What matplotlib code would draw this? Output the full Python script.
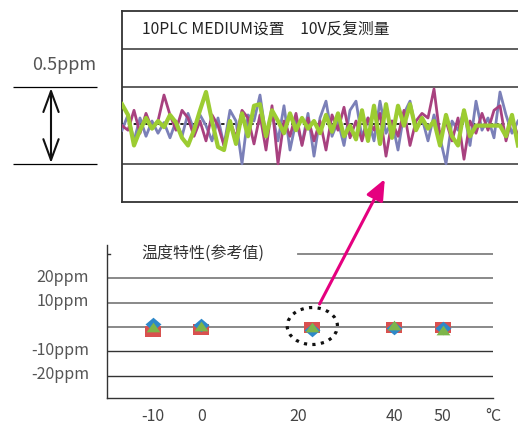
import matplotlib
matplotlib.use('Agg')
import matplotlib.pyplot as plt
import matplotlib.transforms as mtransforms
import numpy as np
from matplotlib.patches import Ellipse, FancyArrowPatch, ConnectionPatch

plt.rcParams['font.family'] = ['Noto Sans CJK SC', 'DejaVu Sans']

# repeat measurement noise (ppm, around the mean)
noise_blue = [-0.03, 0.07, -0.10, 0.05, -0.07, 0.03, -0.05, 0.02, -0.08, 0.03, -0.07, 0.08,
              -0.03, 0.07, 0.00, -0.10, 0.05, -0.13, 0.10, 0.03, -0.25, 0.07, 0.03, 0.20,
              -0.07, 0.08, -0.10, 0.13, -0.16, 0.03, -0.12, 0.08, -0.20, 0.05, 0.16, -0.07,
              0.03, -0.13, 0.10, 0.16, -0.08, 0.05, -0.10, 0.16, -0.05, 0.03, -0.16, 0.08,
              0.16, -0.03, 0.05, -0.10, 0.07, -0.08, -0.25, 0.03, -0.03, 0.10, -0.13, 0.16,
              -0.03, 0.05, -0.08, 0.22, 0.07, -0.05, 0.03]
noise_magenta = [0.00, -0.03, 0.10, -0.05, 0.08, -0.02, 0.03, 0.20, 0.07, -0.03, 0.10, 0.05,
                 -0.07, 0.03, -0.10, 0.07, 0.00, -0.13, 0.03, -0.08, 0.10, 0.05, -0.12, 0.07,
                 -0.16, 0.13, -0.25, 0.03, -0.07, 0.08, -0.13, 0.05, -0.10, 0.03, -0.16, 0.07,
                 -0.03, 0.12, -0.08, 0.03, -0.10, 0.05, -0.03, 0.08, -0.20, 0.03, -0.07, 0.10,
                 -0.13, 0.03, 0.08, 0.05, 0.24, -0.07, 0.03, -0.10, 0.05, -0.22, 0.03, -0.05,
                 0.08, -0.03, 0.10, 0.13, -0.10, 0.05, -0.07]
noise_green = [0.14, 0.07, -0.13, -0.03, 0.05, -0.02, 0.03, -0.01, 0.07, 0.02, -0.08, -0.13,
               -0.03, 0.10, 0.22, 0.03, -0.14, -0.16, 0.03, -0.12, 0.08, -0.07, 0.13, 0.14,
               -0.07, 0.10, 0.03, -0.05, 0.08, -0.03, 0.05, -0.02, 0.03, -0.05, 0.07, -0.04,
               0.08, -0.07, 0.00, -0.09, 0.10, -0.10, 0.13, -0.12, 0.14, -0.08, 0.13, 0.00,
               0.14, -0.03, 0.05, -0.02, 0.03, -0.13, 0.07, -0.07, -0.13, 0.10, -0.07, 0.00,
               0.00, 0.00, 0.00, 0.00, -0.07, 0.07, -0.13]

# temperature characteristic (ppm)
temps = [-10, 0, 23, 40, 50]
temp_red = [-1.6, -0.9, 0.2, -0.2, -0.2]
temp_blue = [1.3, 0.7, -1.2, -0.4, -0.3]
temp_green = [0.0, 0.4, 0.0, 0.8, -1.1]
xtick_vals = [-10, 0, 20, 40, 50]
ytick_vals = [20, 10, -10, -20]
ytick_labels = ['20ppm', '10ppm', '-10ppm', '-20ppm']

W, H = 518, 421


def box(l, t, r, b):
    return [l / W, 1 - b / H, (r - l) / W, (b - t) / H]


fig = plt.figure(figsize=(W / 100, H / 100), dpi=100)

# ---- top panel
ax_top = fig.add_axes(box(122, 11, 560, 202))
xs = np.arange(len(noise_green))
ax_top.axhline(0.01, color='black', lw=1.2, ls=(0, (2, 1.5)), zorder=2)
ax_top.plot(xs, noise_blue, color='#7b80b8', lw=2.0, zorder=3)
ax_top.plot(xs, noise_magenta, color='#a8417f', lw=2.0, zorder=4)
ax_top.plot(xs, noise_green, color='#9ccc32', lw=3.0, zorder=5)
for yy in [0.5, 0.25, -0.25]:
    ax_top.axhline(yy, color='#333333', lw=1.1, zorder=1)
ax_top.set_xlim(0, (560 - 122) / 6)
ax_top.set_ylim(-0.5, 0.75)
ax_top.set_xticks([])
ax_top.set_yticks([])
for s in ['left', 'top', 'bottom']:
    ax_top.spines[s].set_color('#333333')
    ax_top.spines[s].set_linewidth(1.3)
ax_top.spines['right'].set_visible(False)
ax_top.text(3.3, 0.626, '10PLC MEDIUM设置　10V反复测量', fontsize=11.3,
            color='#222222', va='center', ha='left')

# ---- left scale mark
ax_l = fig.add_axes(box(0, 11, 122, 202))
ax_l.set_axis_off()
ax_l.set_xlim(0, 122)
ax_l.set_ylim(-0.5, 0.75)
ax_l.hlines([0.25, -0.25], 13, 97, color='black', lw=0.9)
arr = FancyArrowPatch((51, -0.245), (51, 0.245), arrowstyle='<->,head_length=1.5,head_width=0.55',
                      mutation_scale=10, color='#111111', lw=1.5, shrinkA=0, shrinkB=0)
ax_l.add_patch(arr)
ax_l.text(96, 0.397, '0.5ppm', fontsize=13, color='#555555', ha='right', va='center')

# ---- bottom panel
ax_b = fig.add_axes(box(107, 245, 493, 398))
ax_b.set_xlim(-19.5, 60.4)
ax_b.set_ylim(-29, 33.5)
ax_b.axhline(30, xmin=(298 - 107) / 386, color='#808080', lw=1.3, zorder=1)
ax_b.axhline(30, xmin=0, xmax=3 / 386, color='#333333', lw=1.0, zorder=1)
for yy in [20, 10, 0]:
    ax_b.axhline(yy, color='#808080', lw=1.3, zorder=1)
for yy in [-10, -20]:
    ax_b.axhline(yy, color='#333333', lw=1.0, zorder=1)

rect = [(-1, -0.72), (1, -0.72), (1, 0.72), (-1, 0.72), (-1, -0.72)]
diam = [(-1, 0), (0, 0.85), (1, 0), (0, -0.85), (-1, 0)]
tri = [(-1, -0.7), (0, 0.7), (1, -0.7), (-1, -0.7)]
ax_b.plot(temps, temp_red, ls='none', marker=rect, ms=11, color='#d9504f', mew=0, zorder=3)
ax_b.plot(temps, temp_blue, ls='none', marker=diam, ms=11.5, color='#2e88c9', mew=0, zorder=4)
ax_b.plot(temps, temp_green, ls='none', marker=tri, ms=10, color='#7db54a', mew=0, zorder=5)

ax_b.add_patch(Ellipse((23, 0.4), 10.4, 15.1, fill=False, color='#111111',
                       lw=2.3, ls=(0, (1, 1.7)), zorder=6))

ax_b.set_xticks(xtick_vals)
ax_b.set_xticklabels([str(v) for v in xtick_vals])
ax_b.set_yticks(ytick_vals)
ax_b.set_yticklabels(ytick_labels)
ax_b.tick_params(axis='x', length=0, pad=7.0, labelsize=11.5, labelcolor='#444444')
ax_b.tick_params(axis='y', length=0, pad=13, labelsize=11.5, labelcolor='#555555')
# labels in the reference sit a little above their grid lines
shift = mtransforms.ScaledTranslation(0, 3 / 100, fig.dpi_scale_trans)
for lab in ax_b.get_yticklabels():
    lab.set_transform(lab.get_transform() + shift)
ax_b.annotate('°C', xy=(1.0, 0), xycoords='axes fraction', xytext=(0, -7.0),
              textcoords='offset points', ha='center', va='top', fontsize=11.5, color='#444444')
for s in ['top', 'right']:
    ax_b.spines[s].set_visible(False)
for s in ['left', 'bottom']:
    ax_b.spines[s].set_color('#333333')
    ax_b.spines[s].set_linewidth(1.0)
ax_b.text(-12.4, 30.2, '温度特性(参考值)', fontsize=11.5, color='#333333', ha='left', va='center')

# pink pointer from the 23°C point up to the noise panel
con = ConnectionPatch(xyA=(24.5, 9.4), coordsA=ax_b.transData,
                      xyB=(43.8, -0.35), coordsB=ax_top.transData,
                      arrowstyle='-|>,head_length=0.7,head_width=0.3', mutation_scale=18,
                      color='#e5007f', lw=2.2, shrinkA=0, shrinkB=0)
fig.add_artist(con)

fig.savefig('out.png', dpi=100)
